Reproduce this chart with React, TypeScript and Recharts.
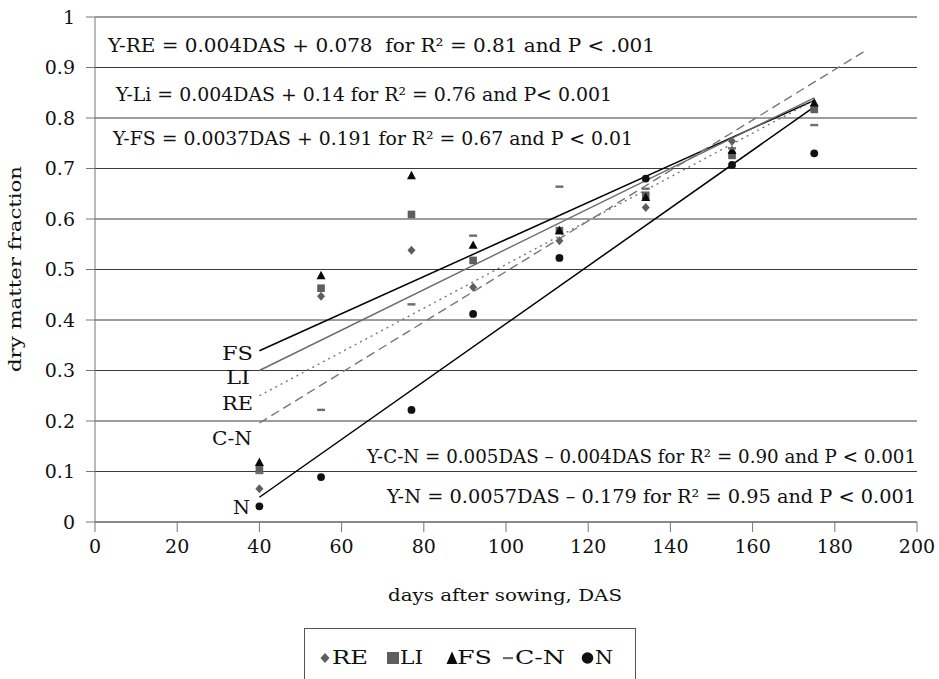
import React from 'react';
import { ScatterChart, Scatter, XAxis, YAxis, CartesianGrid } from 'recharts';

const W = 939;
const H = 679;
const FONT = '"DejaVu Serif", serif';

// days after sowing (sampling dates)
const xDays = [40, 55, 77, 92, 113, 134, 155, 175];
// dry matter fraction per treatment
const reVals = [0.066, 0.447, 0.538, 0.465, 0.557, 0.623, 0.754, 0.82];
const liVals = [0.106, 0.463, 0.609, 0.518, 0.577, 0.647, 0.726, 0.817];
const fsVals = [0.118, 0.488, 0.686, 0.548, 0.577, 0.643, 0.736, 0.83];
const cnVals = [0.097, 0.222, 0.431, 0.567, 0.664, 0.66, 0.74, 0.786];
const nVals = [0.031, 0.089, 0.222, 0.412, 0.523, 0.68, 0.707, 0.73];

// fitted trend lines (end points)
const trendFS = [{ x: 40, y: 0.339 }, { x: 175, y: 0.835 }];
const trendLI = [{ x: 40, y: 0.3 }, { x: 175, y: 0.84 }];
const trendRE = [{ x: 40, y: 0.25 }, { x: 175, y: 0.835 }];
const trendCN = [{ x: 40, y: 0.196 }, { x: 188, y: 0.936 }];
const trendN = [{ x: 40, y: 0.049 }, { x: 175, y: 0.822 }];

const xTicks = [0, 20, 40, 60, 80, 100, 120, 140, 160, 180, 200];
const yTicks = [0, 0.1, 0.2, 0.3, 0.4, 0.5, 0.6, 0.7, 0.8, 0.9, 1];

const toPts = (ys: number[]) => xDays.map((x, i) => ({ x, y: ys[i] }));

const C_RE = '#5e5e5e';
const C_LI = '#5e5e5e';
const C_FS = '#0a0a0a';
const C_CN = '#6e6e6e';
const C_N = '#111111';

const Diamond = (p: any) => {
  const { cx, cy } = p;
  return <path d={`M${cx},${cy - 4.5}L${cx + 4},${cy}L${cx},${cy + 4.5}L${cx - 4},${cy}Z`} fill={C_RE} />;
};
const Square = (p: any) => {
  const { cx, cy } = p;
  return <rect x={cx - 3.8} y={cy - 3.8} width={7.6} height={7.6} fill={C_LI} />;
};
const Triangle = (p: any) => {
  const { cx, cy } = p;
  return <path d={`M${cx},${cy - 4.8}L${cx + 4.5},${cy + 3.6}L${cx - 4.5},${cy + 3.6}Z`} fill={C_FS} />;
};
const Dash = (p: any) => {
  const { cx, cy } = p;
  return <rect x={cx - 4} y={cy - 1.2} width={8} height={2.4} fill={C_CN} />;
};
const Dot = (p: any) => {
  const { cx, cy } = p;
  return <circle cx={cx} cy={cy} r={3.9} fill={C_N} />;
};
const NoShape = () => <g />;

const SText = (props: any) => (
  <text lengthAdjust="spacingAndGlyphs" fontSize={19} {...props} />
);

export default function App() {
  const tickStyle = { fontFamily: FONT, fontSize: 19, fill: '#111' };
  return (
    <div style={{ position: 'absolute', left: 0, top: 0, width: W, height: H, background: '#fff' }}>
      <ScatterChart width={W} height={H} margin={{ top: 17, right: 22, left: 0, bottom: 127 }}>
        <CartesianGrid horizontal vertical={false} stroke="#3a3a3a" strokeWidth={1} />
        <XAxis
          type="number"
          dataKey="x"
          domain={[0, 200]}
          ticks={xTicks}
          height={30}
          tickSize={10}
          tickMargin={8}
          stroke="#777"
          tick={tickStyle}
          interval={0}
        />
        <YAxis
          type="number"
          dataKey="y"
          domain={[0, 1]}
          ticks={yTicks}
          width={95}
          tickSize={9}
          tickMargin={11}
          stroke="#777"
          tick={tickStyle}
          interval={0}
          tickFormatter={(v: number) => String(v)}
        />
        <Scatter data={trendFS} line={{ stroke: '#000', strokeWidth: 1.5 }} shape={NoShape} isAnimationActive={false} />
        <Scatter data={trendLI} line={{ stroke: '#6a6a6a', strokeWidth: 1.4 }} shape={NoShape} isAnimationActive={false} />
        <Scatter data={trendRE} line={{ stroke: '#777', strokeWidth: 1.4, strokeDasharray: '2 4' }} shape={NoShape} isAnimationActive={false} />
        <Scatter data={trendCN} line={{ stroke: '#777', strokeWidth: 1.4, strokeDasharray: '9 5' }} shape={NoShape} isAnimationActive={false} />
        <Scatter data={trendN} line={{ stroke: '#000', strokeWidth: 1.5 }} shape={NoShape} isAnimationActive={false} />

        <Scatter name="RE" data={toPts(reVals)} shape={Diamond} isAnimationActive={false} />
        <Scatter name="LI" data={toPts(liVals)} shape={Square} isAnimationActive={false} />
        <Scatter name="FS" data={toPts(fsVals)} shape={Triangle} isAnimationActive={false} />
        <Scatter name="C-N" data={toPts(cnVals)} shape={Dash} isAnimationActive={false} />
        <Scatter name="N" data={toPts(nVals)} shape={Dot} isAnimationActive={false} />
      </ScatterChart>

      <svg
        width={W}
        height={H}
        style={{ position: 'absolute', left: 0, top: 0, pointerEvents: 'none' }}
        fontFamily={FONT}
        fill="#111"
      >
        {/* axis titles */}
        <SText x={15} y={269} fontSize={17} textLength={206} textAnchor="middle" dominantBaseline="central" transform="rotate(-90 15 269)">
          dry matter fraction
        </SText>
        <SText x={505} y={595} fontSize={17} textLength={234} textAnchor="middle" dominantBaseline="central">
          days after sowing, DAS
        </SText>

        {/* regression equations */}
        <SText x={108} y={52} textLength={547}>
          {'Y-RE = 0.004DAS + 0.078\u00a0 for R\u00b2 = 0.81 and P < .001'}
        </SText>
        <SText x={116} y={101} textLength={496}>
          {'Y-Li = 0.004DAS + 0.14 for R\u00b2 = 0.76 and P< 0.001'}
        </SText>
        <SText x={113} y={145} textLength={520}>
          {'Y-FS = 0.0037DAS + 0.191 for R\u00b2 = 0.67 and P < 0.01'}
        </SText>
        <SText x={367} y={463} textLength={549}>
          {'Y-C-N = 0.005DAS \u2013 0.004DAS for R\u00b2 = 0.90 and P < 0.001'}
        </SText>
        <SText x={387} y={503} textLength={529}>
          {'Y-N = 0.0057DAS \u2013 0.179 for R\u00b2 = 0.95 and P < 0.001'}
        </SText>

        {/* trend line labels */}
        <SText x={222} y={360} textLength={31}>FS</SText>
        <SText x={226} y={384} textLength={24}>LI</SText>
        <SText x={222} y={410} textLength={31}>RE</SText>
        <SText x={212} y={445} textLength={40}>C-N</SText>
        <SText x={233} y={514} textLength={17}>N</SText>

        {/* legend */}
        <rect x={304.5} y={628.5} width={331} height={60} fill="#fff" stroke="#555" strokeWidth={1} />
        <path d="M325,653L329.5,658L325,663L320.5,658Z" fill={C_RE} />
        <SText x={332} y={664} textLength={36}>RE</SText>
        <rect x={387} y={652} width={12} height={12} fill={C_LI} />
        <SText x={400} y={664} textLength={23}>LI</SText>
        <path d="M452,651.5L457.5,664L446.5,664Z" fill={C_FS} />
        <SText x={457} y={664} textLength={35}>FS</SText>
        <rect x={503} y={657} width={10} height={2.2} fill={C_CN} />
        <SText x={515} y={664} textLength={50}>C-N</SText>
        <circle cx={587.5} cy={658} r={5.8} fill={C_N} />
        <SText x={595} y={664} textLength={18}>N</SText>
      </svg>
    </div>
  );
}
